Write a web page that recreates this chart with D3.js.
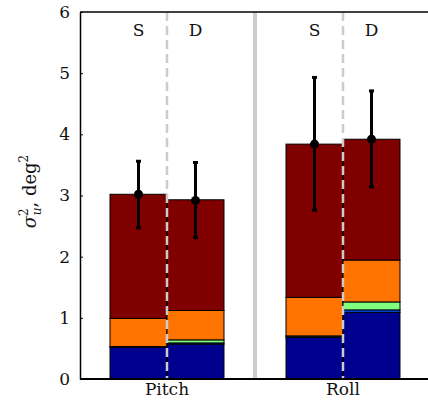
<!DOCTYPE html>
<html>
<head>
<meta charset="utf-8">
<script src="https://cdn.jsdelivr.net/npm/d3@7"></script>
<style>
  body { margin: 0; background: #fff; }
  text { font-family: "DejaVu Serif", serif; fill: #111; }
</style>
</head>
<body>
<div id="chart"></div>
<script>
var groups = ["Pitch", "Roll"];
var conditions = ["S", "D"];
var layerColors = ["#00008f", "#0050ff", "#80ff7f", "#ff7300", "#800000"];

// stacked components per bar, bottom to top
var pitchS = [0.52, 0.005, 0.005, 0.46, 2.03];
var pitchD = [0.57, 0.02, 0.05, 0.48, 1.81];
var rollS  = [0.68, 0.02, 0.005, 0.63, 2.505];
var rollD  = [1.09, 0.04, 0.13, 0.685, 1.975];

// mean and error range per bar
var means   = [3.02, 2.92, 3.84, 3.92];
var errLow  = [2.47, 2.31, 2.76, 3.14];
var errHigh = [3.56, 3.54, 4.93, 4.71];

var yTicks = [0, 1, 2, 3, 4, 5, 6];

var stacks = [pitchS, pitchD, rollS, rollD];
var bars = [];
groups.forEach(function(g, gi){
    conditions.forEach(function(c, ci){
        var i = gi * 2 + ci;
        bars.push({ group: g, cond: c, parts: stacks[i], mean: means[i], lo: errLow[i], hi: errHigh[i] });
    });
});

var margin = { left: 80, right: -3, top: 12, bottom: 22 };
var W = 428, H = 401;
var width = W - margin.left - margin.right,
    height = H - margin.top - margin.bottom;

var svg = d3.select("#chart").append("svg")
    .attr("width", W).attr("height", H)
    .append("g")
        .attr("transform", "translate(" + margin.left + "," + margin.top + ")");

var x = d3.scaleBand().domain(groups).range([-1, width]).padding(0);
var xSub = d3.scaleBand().domain(conditions).range([0, x.bandwidth()])
    .paddingInner(0).paddingOuter(0.544);
var y = d3.scaleLinear().domain([0, 6]).range([height, 0]);

// gray separator between groups
svg.append("line")
    .attr("x1", x("Roll")).attr("x2", x("Roll"))
    .attr("y1", 0).attr("y2", height)
    .attr("stroke", "#cccccc").attr("stroke-width", 4);

// stacked bars
bars.forEach(function(b){
    var bx = x(b.group) + xSub(b.cond);
    var base = 0;
    b.parts.forEach(function(v, li){
        svg.append("rect")
            .attr("x", bx)
            .attr("width", xSub.bandwidth())
            .attr("y", y(base + v))
            .attr("height", y(base) - y(base + v))
            .attr("fill", layerColors[li])
            .attr("stroke", "#000")
            .attr("stroke-width", 1);
        base += v;
    });
});

// dashed lines between S and D
groups.forEach(function(g){
    var cx = x(g) + x.bandwidth() / 2;
    svg.append("line")
        .attr("x1", cx).attr("x2", cx)
        .attr("y1", 0).attr("y2", height)
        .attr("stroke", "#cccccc").attr("stroke-width", 2.5)
        .attr("stroke-dasharray", "9,5");
});

// error bars
bars.forEach(function(b){
    var cx = x(b.group) + xSub(b.cond) + xSub.bandwidth() / 2;
    svg.append("line")
        .attr("x1", cx).attr("x2", cx)
        .attr("y1", y(b.lo)).attr("y2", y(b.hi))
        .attr("stroke", "#000").attr("stroke-width", 3);
    [b.lo, b.hi].forEach(function(v){
        svg.append("line")
            .attr("x1", cx - 2.5).attr("x2", cx + 2.5)
            .attr("y1", y(v)).attr("y2", y(v))
            .attr("stroke", "#000").attr("stroke-width", 3);
    });
    svg.append("circle")
        .attr("cx", cx).attr("cy", y(b.mean)).attr("r", 4.5)
        .attr("fill", "#000");
});

// S / D labels
bars.forEach(function(b){
    svg.append("text")
        .attr("x", x(b.group) + xSub(b.cond) + xSub.bandwidth() / 2)
        .attr("y", 24)
        .attr("text-anchor", "middle")
        .attr("font-size", 17)
        .text(b.cond);
});

// frame: top and bottom lines
svg.append("line").attr("x1", 0).attr("x2", width + 5).attr("y1", 0).attr("y2", 0)
    .attr("stroke", "#000").attr("stroke-width", 1.5);
svg.append("line").attr("x1", 0).attr("x2", width + 5).attr("y1", height).attr("y2", height)
    .attr("stroke", "#000").attr("stroke-width", 2);

// y axis
var yAxis = d3.axisLeft(y).tickValues(yTicks).tickFormat(d3.format("d"))
    .tickSizeInner(-3).tickSizeOuter(0).tickPadding(10);
var ya = svg.append("g").call(yAxis);
ya.attr("font-family", null);
ya.select(".domain").attr("stroke", "#000").attr("stroke-width", 1.5);
ya.selectAll(".tick line").attr("stroke", "#000");
ya.selectAll(".tick text")
    .attr("font-size", 17).attr("fill", "#111");

// x labels
groups.forEach(function(g){
    svg.append("text")
        .attr("x", x(g) + x.bandwidth() / 2)
        .attr("y", height + 16)
        .attr("text-anchor", "middle")
        .attr("font-size", 17)
        .text(g);
});

// y label
var yl = svg.append("text")
    .attr("transform", "translate(" + (-44) + "," + (height / 2 - 4) + ") rotate(-90)")
    .attr("text-anchor", "middle")
    .attr("font-size", 18);
yl.append("tspan").attr("font-style", "italic").text("σ");
yl.append("tspan").attr("font-size", 12).attr("dy", -8).text("2");
yl.append("tspan").attr("font-size", 12).attr("font-style", "italic").attr("dx", -7).attr("dy", 13).text("u");
yl.append("tspan").attr("dy", -5).text(", deg");
yl.append("tspan").attr("font-size", 12).attr("dy", -8).text("2");
</script>
</body>
</html>
